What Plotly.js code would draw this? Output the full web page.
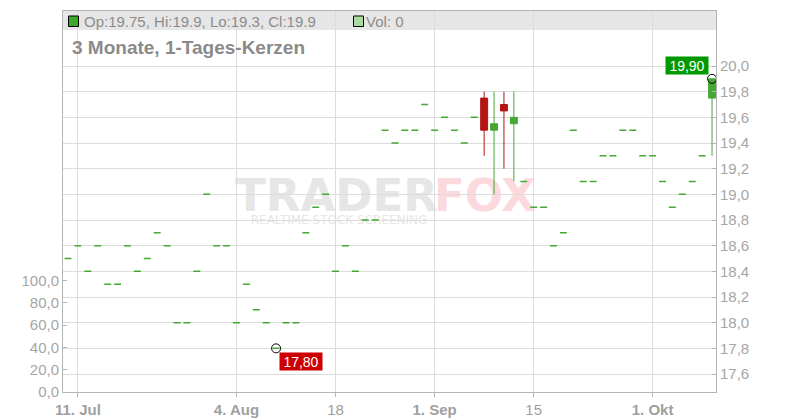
<!DOCTYPE html>
<html>
<head>
<meta charset="utf-8">
<script src="https://cdn.plot.ly/plotly-3.0.1.min.js"></script>
<style>html,body{margin:0;padding:0;background:#fff;}#chart{width:800px;height:420px;}</style>
</head>
<body>
<div id="chart"></div>
<script>
// ---- data ----
const dates = [
 '2025-07-10','2025-07-11','2025-07-14','2025-07-15','2025-07-16','2025-07-17','2025-07-18',
 '2025-07-21','2025-07-22','2025-07-23','2025-07-24','2025-07-25',
 '2025-07-28','2025-07-29','2025-07-30','2025-07-31','2025-08-01',
 '2025-08-04','2025-08-05','2025-08-06','2025-08-07','2025-08-08',
 '2025-08-11','2025-08-12','2025-08-13','2025-08-14','2025-08-15',
 '2025-08-18','2025-08-19','2025-08-20','2025-08-21','2025-08-22',
 '2025-08-25','2025-08-26','2025-08-27','2025-08-28','2025-08-29',
 '2025-09-01','2025-09-02','2025-09-03','2025-09-04','2025-09-05',
 '2025-09-08','2025-09-09','2025-09-10','2025-09-11','2025-09-12',
 '2025-09-15','2025-09-16','2025-09-17','2025-09-18','2025-09-19',
 '2025-09-22','2025-09-23','2025-09-24','2025-09-25','2025-09-26',
 '2025-09-29','2025-09-30','2025-10-01','2025-10-02','2025-10-03',
 '2025-10-06','2025-10-07','2025-10-08','2025-10-09'
];
const open = [
 18.5,18.6,18.4,18.6,18.3,18.3,18.6,18.4,18.5,18.7,18.6,18.0,18.0,18.4,19.0,18.6,18.6,
 18.0,18.3,18.1,18.0,17.8,18.0,18.0,18.7,18.9,19.0,18.4,18.6,18.4,18.8,18.8,19.5,19.4,
 19.5,19.5,19.7,19.5,19.6,19.5,19.4,19.6,19.75,19.5,19.7,19.55,19.1,18.9,18.9,18.6,18.7,
 19.5,19.1,19.1,19.3,19.3,19.5,19.5,19.3,19.3,19.1,18.9,19.0,19.1,19.3,19.75
];
const high = [
 18.5,18.6,18.4,18.6,18.3,18.3,18.6,18.4,18.5,18.7,18.6,18.0,18.0,18.4,19.0,18.6,18.6,
 18.0,18.3,18.1,18.0,17.8,18.0,18.0,18.7,18.9,19.0,18.4,18.6,18.4,18.8,18.8,19.5,19.4,
 19.5,19.5,19.7,19.5,19.6,19.5,19.4,19.6,19.8,19.8,19.8,19.8,19.1,18.9,18.9,18.6,18.7,
 19.5,19.1,19.1,19.3,19.3,19.5,19.5,19.3,19.3,19.1,18.9,19.0,19.1,19.3,19.9
];
const low = [
 18.5,18.6,18.4,18.6,18.3,18.3,18.6,18.4,18.5,18.7,18.6,18.0,18.0,18.4,19.0,18.6,18.6,
 18.0,18.3,18.1,18.0,17.8,18.0,18.0,18.7,18.9,19.0,18.4,18.6,18.4,18.8,18.8,19.5,19.4,
 19.5,19.5,19.7,19.5,19.6,19.5,19.4,19.6,19.3,19.0,19.2,19.1,19.1,18.9,18.9,18.6,18.7,
 19.5,19.1,19.1,19.3,19.3,19.5,19.5,19.3,19.3,19.1,18.9,19.0,19.1,19.3,19.3
];
const close = [
 18.5,18.6,18.4,18.6,18.3,18.3,18.6,18.4,18.5,18.7,18.6,18.0,18.0,18.4,19.0,18.6,18.6,
 18.0,18.3,18.1,18.0,17.8,18.0,18.0,18.7,18.9,19.0,18.4,18.6,18.4,18.8,18.8,19.5,19.4,
 19.5,19.5,19.7,19.5,19.6,19.5,19.4,19.6,19.5,19.55,19.65,19.6,19.1,18.9,18.9,18.6,18.7,
 19.5,19.1,19.1,19.3,19.3,19.5,19.5,19.3,19.3,19.1,18.9,19.0,19.1,19.3,19.9
];
const volume = [
 0,0,0,0,0,0,0,0,0,0,0,0,0,0,0,0,0,0,0,0,0,0,0,0,0,0,0,0,0,0,0,0,0,
 0,0,0,0,0,0,0,0,0,0,0,0,0,0,0,0,0,0,0,0,0,0,0,0,0,0,0,0,0,0,0,0,0
];
const tickDates = ['2025-07-11','2025-08-04','2025-08-18','2025-09-01','2025-09-15','2025-10-01'];
const tickLabels = ['<b>11. Jul</b>','<b>4. Aug</b>','18','<b>1. Sep</b>','15','<b>1. Okt</b>'];
const priceTicks = [17.6,17.8,18.0,18.2,18.4,18.6,18.8,19.0,19.2,19.4,19.6,19.8,20.0];
const volTicks = [0,20,40,60,80,100];
const chartTitle = '3 Monate, 1-Tages-Kerzen';

// ---- styling ----
const GREEN = '#45a833', RED = '#b51414';
const FONT = 'Liberation Sans, Arial, sans-serif';

const flatIdx = [], bodyIdx = [];
dates.forEach((d, i) => (open[i] === close[i] && high[i] === low[i] ? flatIdx : bodyIdx).push(i));
const pick = (arr, idx) => idx.map(i => arr[i]);

const last = dates.length - 1;
let minI = 0;
low.forEach((v, i) => { if (v < low[minI]) minI = i; });
const fmt = v => v.toFixed(2).replace('.', ',');

const traces = [
  {type: 'bar', x: dates, y: volume, yaxis: 'y2', marker: {color: '#a8dca0'}, hoverinfo: 'skip', showlegend: false},
  {type: 'candlestick', x: pick(dates, flatIdx), open: pick(open, flatIdx), high: pick(high, flatIdx),
   low: pick(low, flatIdx), close: pick(close, flatIdx), line: {width: 1.5},
   increasing: {line: {color: GREEN, width: 1.5}, fillcolor: GREEN},
   decreasing: {line: {color: GREEN, width: 1.5}, fillcolor: GREEN}, showlegend: false},
  {type: 'candlestick', x: pick(dates, bodyIdx), open: pick(open, bodyIdx), high: pick(high, bodyIdx),
   low: pick(low, bodyIdx), close: pick(close, bodyIdx),
   increasing: {line: {color: GREEN, width: 1}, fillcolor: GREEN},
   decreasing: {line: {color: RED, width: 1}, fillcolor: RED}, showlegend: false},
  {type: 'scatter', mode: 'markers', x: [dates[minI], dates[last]], y: [low[minI], close[last]],
   marker: {symbol: 'circle-open', size: 9, color: '#000', line: {width: 1}}, hoverinfo: 'skip', showlegend: false}
];

const PX = px => (px - 63) / 653, PY = py => (392 - py) / 381;

const layout = {
  width: 800, height: 420,
  margin: {l: 63, r: 84, t: 11, b: 28},
  paper_bgcolor: '#fff', plot_bgcolor: '#fff',
  separators: ',.',
  showlegend: false,
  boxgap: 0.3, boxgroupgap: 0,
  font: {family: FONT, color: '#a0a0a0', size: 15},
  xaxis: {
    type: 'category', categoryorder: 'array', categoryarray: dates,
    range: [-0.505, 65.4], rangeslider: {visible: false},
    tickvals: tickDates, ticktext: tickLabels,
    ticks: 'outside', ticklen: 4, tickcolor: '#b4b4b4',
    showgrid: true, gridcolor: '#dcdcdc', gridwidth: 1,
    showline: true, linecolor: '#b4b4b4', linewidth: 1, mirror: true,
    tickfont: {size: 15, color: '#a0a0a0'}, fixedrange: true
  },
  yaxis: {
    side: 'right', range: [17.46, 20.4285], tickvals: priceTicks, tickformat: '.1f',
    ticks: 'inside', ticklen: 4, tickcolor: '#b4b4b4',
    showgrid: true, gridcolor: '#dcdcdc', zeroline: false,
    showline: true, linecolor: '#b4b4b4', linewidth: 1,
    tickfont: {size: 15, color: '#a6a6a6'}
  },
  yaxis2: {
    overlaying: 'y', side: 'left', range: [0, 341.7], tickvals: volTicks, tickformat: '.1f',
    ticks: 'inside', ticklen: 4, tickcolor: '#b4b4b4', showgrid: false, zeroline: false,
    showline: true, linecolor: '#b4b4b4', linewidth: 1,
    tickfont: {size: 15, color: '#a6a6a6'}
  },
  shapes: [
    {type: 'rect', xref: 'paper', yref: 'paper', x0: 0, x1: 1, y0: PY(30), y1: 1,
     fillcolor: '#e6e6e6', line: {width: 0}, layer: 'below'},
    {type: 'rect', xref: 'paper', yref: 'paper', x0: PX(68.5), x1: PX(78.5), y0: PY(26.5), y1: PY(16),
     fillcolor: '#3ea82b', line: {color: '#000', width: 1}},
    {type: 'rect', xref: 'paper', yref: 'paper', x0: PX(353.5), x1: PX(363.5), y0: PY(26.5), y1: PY(16),
     fillcolor: '#a8dca0', line: {color: '#000', width: 1}},
    {type: 'rect', xref: 'paper', yref: 'paper', x0: PX(230), x1: PX(443), y0: PY(215), y1: PY(170),
     line: {width: 0}, layer: 'below',
     label: {text: 'TRADER', textposition: 'middle center',
             font: {family: 'DejaVu Sans', size: 45, weight: 'bold', color: '#e6e6e6'}}},
    {type: 'rect', xref: 'paper', yref: 'paper', x0: PX(425), x1: PX(545), y0: PY(215), y1: PY(170),
     line: {width: 0}, layer: 'below',
     label: {text: 'FOX', textposition: 'middle center',
             font: {family: 'DejaVu Sans', size: 45, weight: 'bold', color: '#fcd9dc'}}},
    {type: 'rect', xref: 'paper', yref: 'paper', x0: PX(239), x1: PX(439), y0: PY(226), y1: PY(211),
     line: {width: 0}, layer: 'below',
     label: {text: 'REALTIME STOCK SCREENING', textposition: 'middle center',
             font: {family: 'DejaVu Sans', size: 12, color: '#e6e6e6'}}}
  ],
  annotations: [
    {xref: 'paper', yref: 'paper', x: PX(82), y: PY(21), xanchor: 'left', yanchor: 'middle', showarrow: false,
     text: 'Op:' + open[last] + ', Hi:' + high[last] + ', Lo:' + low[last] + ', Cl:' + close[last],
     font: {size: 15, color: '#8c8c8c'}},
    {xref: 'paper', yref: 'paper', x: PX(364), y: PY(21), xanchor: 'left', yanchor: 'middle', showarrow: false,
     text: 'Vol: ' + volume[last], font: {size: 15, color: '#8c8c8c'}},
    {xref: 'paper', yref: 'paper', x: PX(70), y: PY(47.5), xanchor: 'left', yanchor: 'middle', showarrow: false,
     text: '<b>' + chartTitle + '</b>', font: {size: 19, color: '#8a8a8a'}},
    {x: dates[last], y: close[last], xref: 'x', yref: 'y', xanchor: 'right', yanchor: 'bottom',
     xshift: -3, yshift: 4, showarrow: false, text: fmt(close[last]),
     bgcolor: '#009a00', borderpad: 1, width: 40, height: 15, font: {size: 14, color: '#fff'}},
    {x: dates[minI], y: low[minI], xref: 'x', yref: 'y', xanchor: 'left', yanchor: 'top',
     xshift: 3, yshift: -4, showarrow: false, text: fmt(low[minI]),
     bgcolor: '#cc0000', borderpad: 1, width: 40, height: 15, font: {size: 14, color: '#fff'}}
  ]
};

Plotly.newPlot('chart', traces, layout, {displayModeBar: false, staticPlot: true});
</script>
</body>
</html>
